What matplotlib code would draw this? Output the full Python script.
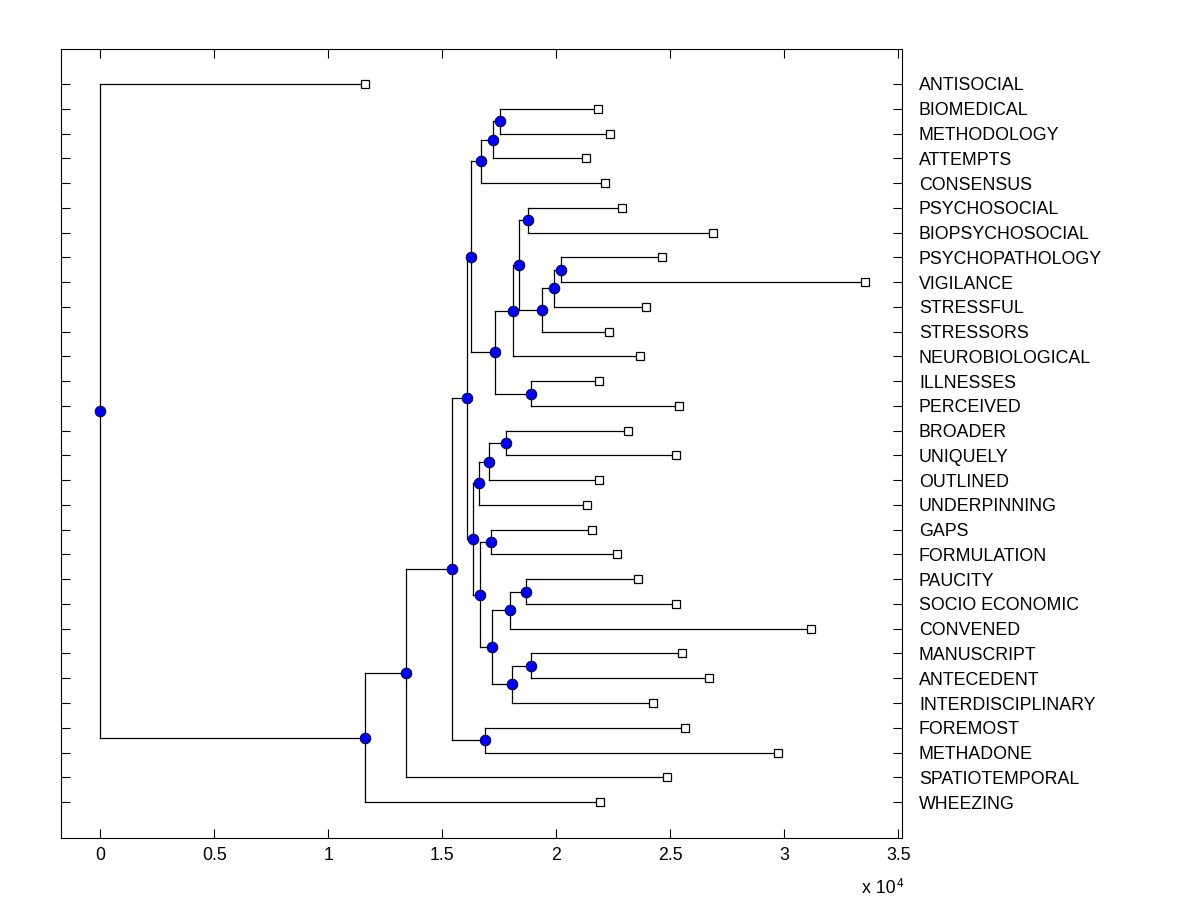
import numpy as np
import matplotlib
matplotlib.use("Agg")
import matplotlib.pyplot as plt

plt.rcParams['font.family'] = ['Liberation Sans', 'DejaVu Sans']

# Leaves, top to bottom, with their distance from the root (x 10^4)
leaf_names = ["ANTISOCIAL", "BIOMEDICAL", "METHODOLOGY", "ATTEMPTS", "CONSENSUS",
              "PSYCHOSOCIAL", "BIOPSYCHOSOCIAL", "PSYCHOPATHOLOGY", "VIGILANCE",
              "STRESSFUL", "STRESSORS", "NEUROBIOLOGICAL", "ILLNESSES", "PERCEIVED",
              "BROADER", "UNIQUELY", "OUTLINED", "UNDERPINNING", "GAPS", "FORMULATION",
              "PAUCITY", "SOCIO ECONOMIC", "CONVENED", "MANUSCRIPT", "ANTECEDENT",
              "INTERDISCIPLINARY", "FOREMOST", "METHADONE", "SPATIOTEMPORAL", "WHEEZING"]
leaf_dist = [1.163, 2.184, 2.237, 2.132, 2.215,
             2.289, 2.689, 2.465, 3.352,
             2.395, 2.232, 2.368, 2.189, 2.539,
             2.316, 2.526, 2.189, 2.136, 2.158, 2.268,
             2.360, 2.526, 3.119, 2.553, 2.671,
             2.425, 2.566, 2.972, 2.487, 2.193]

# Branch nodes: ids 30.. in order, children refer to leaf or earlier branch ids
node_children = [(1, 2), (30, 3), (31, 4), (5, 6), (7, 8), (34, 9), (35, 10),
                 (33, 36), (37, 11), (12, 13), (38, 39), (32, 40),
                 (14, 15), (42, 16), (43, 17), (18, 19), (20, 21), (46, 22),
                 (23, 24), (48, 25), (47, 49), (45, 50), (44, 51), (41, 52),
                 (26, 27), (53, 54), (55, 28), (56, 29), (0, 57)]
node_dist = [1.754, 1.724, 1.671, 1.877, 2.022, 1.991, 1.939,
             1.838, 1.811, 1.890, 1.732, 1.627,
             1.781, 1.706, 1.662, 1.715, 1.868, 1.798,
             1.890, 1.807, 1.719, 1.667, 1.636, 1.610,
             1.689, 1.544, 1.341, 1.163, 0.0]

x_ticks = [0, 0.5, 1, 1.5, 2, 2.5, 3, 3.5]
x_tick_labels = ["0", "0.5", "1", "1.5", "2", "2.5", "3", "3.5"]


def tree_positions():
    n_leaves = len(leaf_names)
    xs = list(leaf_dist) + list(node_dist)
    ys = list(np.arange(1, n_leaves + 1, dtype=float))
    # branch sits halfway between its two children
    for c1, c2 in node_children:
        ys.append((ys[c1] + ys[c2]) / 2)
    return np.array(xs), np.array(ys)


def plot_tree():
    xs, ys = tree_positions()
    n_leaves = len(leaf_names)

    fig = plt.figure(figsize=(12, 9), dpi=100)
    ax = fig.add_axes([0.0511, 0.0692, 0.7008, 0.876])

    # branches
    for i, (c1, c2) in enumerate(node_children):
        k = n_leaves + i
        ax.plot([xs[k], xs[k]], [ys[c1], ys[c2]], color='black', lw=0.9, zorder=1)
        for c in (c1, c2):
            ax.plot([xs[k], xs[c]], [ys[c], ys[c]], color='black', lw=0.9, zorder=1)

    ax.plot(xs[n_leaves:], ys[n_leaves:], 'o', markersize=7.7, markerfacecolor='#0000ff',
            markeredgecolor='black', markeredgewidth=0.6, zorder=3)
    ax.plot(xs[:n_leaves], ys[:n_leaves], 's', markersize=6.3, markerfacecolor='white',
            markeredgecolor='black', markeredgewidth=0.9, zorder=3)

    ax.set_xlim(-0.171, 3.5175)
    ax.set_ylim(31.44, -0.40)

    ax.set_xticks(x_ticks)
    ax.set_xticklabels(x_tick_labels, fontsize=12.8)
    ax.set_yticks(np.arange(1, n_leaves + 1))
    ax.set_yticklabels(leaf_names, fontsize=12.8)
    ax.tick_params(axis='both', direction='in', length=6.7, width=0.8,
                   top=True, right=True)
    ax.tick_params(axis='y', labelleft=False, labelright=True, pad=12)
    ax.tick_params(axis='x', pad=7)
    for s in ax.spines.values():
        s.set_linewidth(0.8)

    # exponent note under the axis
    ax.text(0.952, -0.0701, "x 10", transform=ax.transAxes, fontsize=12.8,
            ha='left', va='baseline')
    ax.text(0.9937, -0.0625, "4", transform=ax.transAxes, fontsize=8.5,
            ha='left', va='baseline')

    fig.savefig("out.png", dpi=100)
    plt.close(fig)


if __name__ == '__main__':
    plot_tree()
